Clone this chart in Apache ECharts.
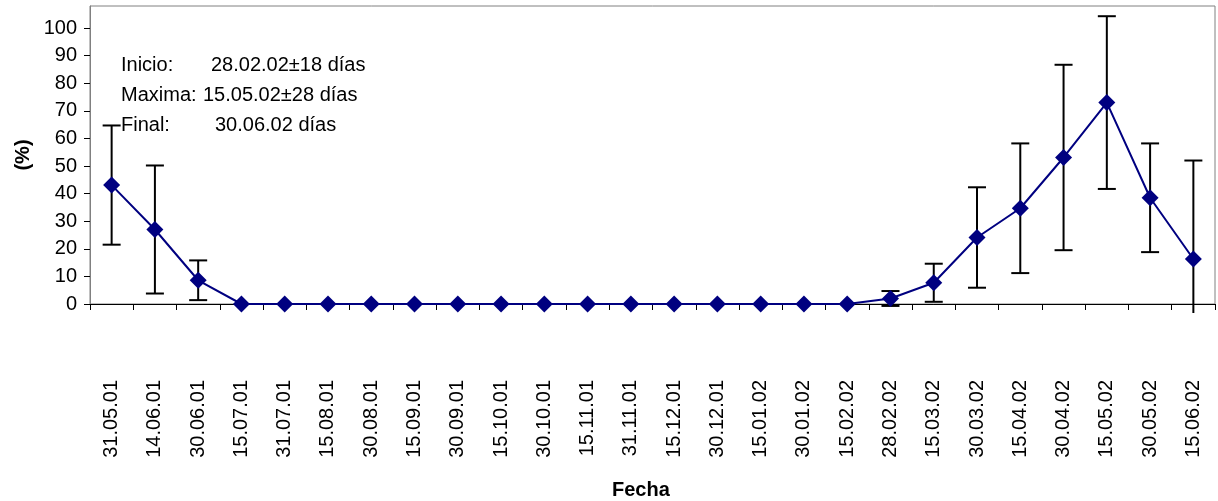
<!DOCTYPE html>
<html>
<head>
<meta charset="utf-8">
<script src="https://cdn.jsdelivr.net/npm/echarts@6/dist/echarts.min.js"></script>
<style>
  html, body { margin: 0; padding: 0; background: #ffffff; }
  #chart { width: 1218px; height: 501px; }
</style>
</head>
<body>
<div id="chart"></div>
<script>
// Sampling dates
const fechas = [
  '31.05.01', '14.06.01', '30.06.01', '15.07.01', '31.07.01', '15.08.01',
  '30.08.01', '15.09.01', '30.09.01', '15.10.01', '30.10.01', '15.11.01',
  '31.11.01', '15.12.01', '30.12.01', '15.01.02', '30.01.02', '15.02.02',
  '28.02.02', '15.03.02', '30.03.02', '15.04.02', '30.04.02', '15.05.02',
  '30.05.02', '15.06.02'
];

// Mean percentage per date
const porcentaje = [
  43.1, 27.0, 8.6, 0, 0, 0, 0, 0, 0, 0, 0, 0, 0, 0, 0, 0, 0, 0,
  2.0, 7.7, 24.1, 34.7, 53.1, 73.0, 38.5, 16.3
];

// Standard deviation (± error) per date
const desviacion = [
  21.6, 23.2, 7.2, 0, 0, 0, 0, 0, 0, 0, 0, 0, 0, 0, 0, 0, 0, 0,
  2.7, 6.9, 18.2, 23.5, 33.6, 31.3, 19.7, 35.7
];

// Y-axis tick values
const yTicks = [0, 10, 20, 30, 40, 50, 60, 70, 80, 90, 100];

// Annotation lines: label and value
const notaEtiquetas = ['Inicio:', 'Maxima:', 'Final:'];
const notaValores = ['28.02.02±18 días', '15.05.02±28 días', '30.06.02 días'];

const FONT = '"Liberation Sans", Arial, sans-serif';

const errorData = fechas.map((f, i) => [i, porcentaje[i] - desviacion[i], porcentaje[i] + desviacion[i], desviacion[i]]);

// Vertical error bar with caps; the lower end stops just under the x axis
function renderError(params, api) {
  if (api.value(3) === 0) return null;
  const x = api.value(0);
  const top = api.coord([x, api.value(2)]);
  let bot = api.coord([x, api.value(1)]);
  const zero = api.coord([x, 0]);
  const limit = zero[1] + 9;
  let lowCap = true;
  if (bot[1] > limit) { bot = [bot[0], limit]; lowCap = false; }
  const half = 9;
  const style = { stroke: '#000000', lineWidth: 2 };
  const children = [
    { type: 'line', shape: { x1: top[0], y1: top[1], x2: bot[0], y2: bot[1] }, style },
    { type: 'line', shape: { x1: top[0] - half, y1: top[1], x2: top[0] + half, y2: top[1] }, style }
  ];
  if (lowCap) {
    children.push({ type: 'line', shape: { x1: bot[0] - half, y1: bot[1], x2: bot[0] + half, y2: bot[1] }, style });
  }
  return { type: 'group', children };
}

const noteY = [66, 96, 126];
const noteValX = [211, 203, 215];
const graphics = [];
notaEtiquetas.forEach((t, i) => {
  graphics.push({
    type: 'text', left: 121, top: noteY[i] - 11, z: 100,
    style: { text: t, fontFamily: FONT, fontSize: 20, fill: '#000000' }
  });
  graphics.push({
    type: 'text', left: noteValX[i], top: noteY[i] - 11, z: 100,
    style: { text: notaValores[i], fontFamily: FONT, fontSize: 20, fill: '#000000' }
  });
});
graphics.push({
  type: 'text', x: 23, y: 155, rotation: Math.PI / 2, z: 100,
  style: { text: '(%)', fontFamily: FONT, fontSize: 20, fontWeight: 'bold', fill: '#000000', align: 'center', verticalAlign: 'middle' }
});
graphics.push({
  type: 'text', left: 612, top: 480, z: 100,
  style: { text: 'Fecha', fontFamily: FONT, fontSize: 20, fontWeight: 'bold', fill: '#000000' }
});

const chart = echarts.init(document.getElementById('chart'), null, { renderer: 'canvas' });
chart.setOption({
  backgroundColor: '#ffffff',
  animation: false,
  textStyle: { fontFamily: FONT },
  grid: {
    left: 90, right: 3, top: 6, bottom: 197,
    show: true, borderColor: '#808080', borderWidth: 1, backgroundColor: 'transparent'
  },
  xAxis: {
    type: 'category',
    data: fechas,
    boundaryGap: true,
    axisLine: { lineStyle: { color: '#000000', width: 1 } },
    axisTick: { show: true, alignWithLabel: false, interval: 0, length: 6, lineStyle: { color: '#000000' } },
    axisLabel: {
      interval: 0, rotate: 90, margin: 76, fontSize: 20, color: '#000000', fontFamily: FONT,
      padding: [10, 0, 0, 0]
    },
    splitLine: { show: false }
  },
  yAxis: {
    type: 'value',
    min: 0, max: 108, interval: 10,
    axisLine: { show: true, lineStyle: { color: '#808080', width: 1 } },
    axisTick: { show: true, length: 6, customValues: yTicks, lineStyle: { color: '#000000' } },
    axisLabel: { fontSize: 20, margin: 13, color: '#000000', fontFamily: FONT, customValues: yTicks },
    splitLine: { show: false }
  },
  series: [
    {
      type: 'custom',
      data: errorData,
      renderItem: renderError,
      encode: { x: 0, y: [1, 2] },
      clip: false,
      z: 2,
      silent: true
    },
    {
      type: 'line',
      data: porcentaje,
      symbol: 'diamond',
      symbolSize: 17,
      lineStyle: { color: '#000080', width: 2 },
      itemStyle: { color: '#000080' },
      z: 3
    }
  ],
  graphic: graphics
});
</script>
</body>
</html>
